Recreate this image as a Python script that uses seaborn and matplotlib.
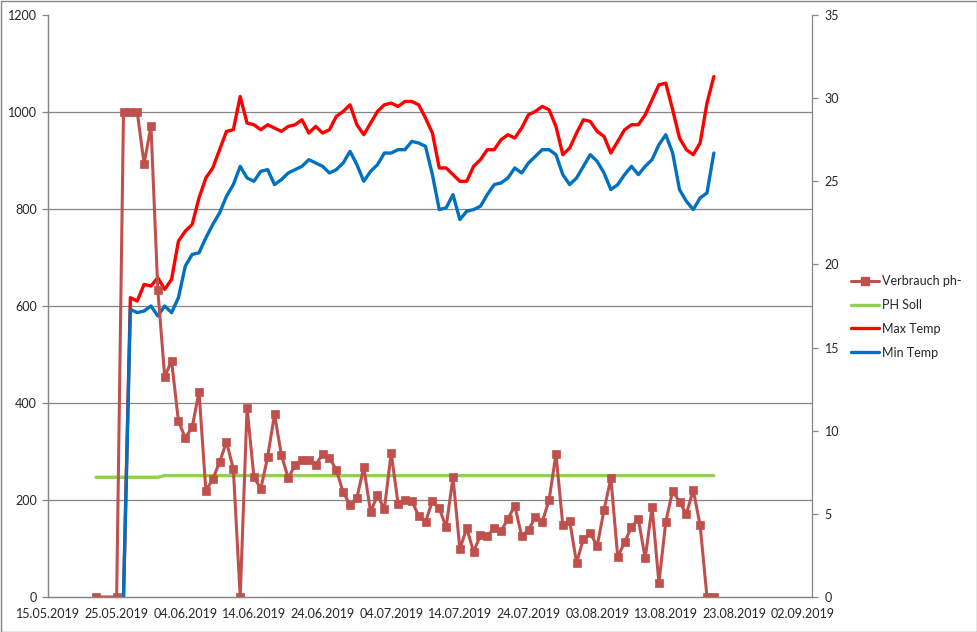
import matplotlib
matplotlib.use('Agg')
import matplotlib.pyplot as plt
from matplotlib.ticker import FixedLocator
from matplotlib.patches import Rectangle
from matplotlib.lines import Line2D
import seaborn as sns
import pandas as pd

sns.set_style('white')
plt.rcParams['font.family'] = ['Lato', 'DejaVu Sans']

# ---------------- data ----------------
verbrauch_dates = ['2019-05-22'] + list(pd.date_range('2019-05-25', '2019-08-20').strftime('%Y-%m-%d'))
verbrauch = [0,
             0, 1000, 1000, 1000, 893, 971, 633, 454, 487, 363,
             328, 350, 423, 219, 243, 278, 320, 264, 0, 390,
             247, 223, 289, 377, 293, 245, 272, 282, 282, 272,
             295, 287, 262, 216, 190, 204, 268, 175, 210, 181,
             297, 192, 200, 198, 167, 155, 198, 183, 144, 247,
             99, 142, 93, 128, 126, 142, 136, 161, 188, 126,
             138, 165, 155, 200, 295, 148, 157, 70, 120, 132,
             105, 179, 245, 82, 113, 144, 161, 80, 186, 29,
             155, 219, 196, 171, 221, 148, 0, 0]

ph_soll = [7.2] * 8 + [7.3] * 81

temp_dates = list(pd.date_range('2019-05-26', '2019-08-20').strftime('%Y-%m-%d'))
max_temp = [0,
            18.0, 17.8, 18.8, 18.7, 19.2, 18.5, 19.1, 21.4, 22.0, 22.4,
            24.0, 25.2, 25.8, 26.9, 28.0, 28.1, 30.1, 28.5, 28.4, 28.1,
            28.4, 28.2, 28.0, 28.3, 28.4, 28.7, 27.9, 28.3, 27.9, 28.1,
            28.9, 29.2, 29.6, 28.4, 27.8, 28.5, 29.2, 29.6, 29.7, 29.5,
            29.8, 29.8, 29.6, 28.8, 27.9, 25.8, 25.8, 25.4, 25.0, 25.0,
            25.9, 26.3, 26.9, 26.9, 27.5, 27.8, 27.6, 28.2, 29.0, 29.2,
            29.5, 29.3, 28.3, 26.6, 27.0, 27.9, 28.7, 28.6, 28.0, 27.7,
            26.7, 27.4, 28.1, 28.4, 28.4, 29.0, 29.9, 30.8, 30.9, 29.3,
            27.6, 26.9, 26.6, 27.3, 29.7, 31.3]
min_temp = [0,
            17.3, 17.1, 17.2, 17.5, 16.9, 17.5, 17.1, 18.0, 19.9, 20.6,
            20.7, 21.6, 22.4, 23.1, 24.1, 24.8, 25.9, 25.2, 25.0, 25.6,
            25.7, 24.8, 25.1, 25.5, 25.7, 25.9, 26.3, 26.1, 25.9, 25.5,
            25.7, 26.1, 26.8, 26.0, 25.0, 25.6, 26.0, 26.7, 26.7, 26.9,
            26.9, 27.4, 27.3, 27.1, 25.4, 23.3, 23.4, 24.2, 22.7, 23.2,
            23.3, 23.5, 24.2, 24.8, 24.9, 25.2, 25.8, 25.5, 26.1, 26.5,
            26.9, 26.9, 26.6, 25.4, 24.8, 25.2, 25.9, 26.6, 26.2, 25.5,
            24.5, 24.8, 25.4, 25.9, 25.4, 25.9, 26.3, 27.2, 27.8, 26.7,
            24.5, 23.8, 23.3, 24.0, 24.3, 26.7]

x_tick_dates = list(pd.date_range('2019-05-15', periods=12, freq='10D'))
left_ticks = [0, 200, 400, 600, 800, 1000, 1200]
right_ticks = [0, 5, 10, 15, 20, 25, 30, 35]

df_v = pd.DataFrame({'date': pd.to_datetime(verbrauch_dates), 'Verbrauch ph-': verbrauch, 'PH Soll': ph_soll})
df_t = pd.DataFrame({'date': pd.to_datetime(temp_dates), 'Max Temp': max_temp, 'Min Temp': min_temp})

C_V, C_PH, C_MAX, C_MIN = '#C0504D', '#92D050', '#FF0000', '#0070C0'
GRID = '#868686'
TXT = '#262626'

# ---------------- figure ----------------
W, H = 978, 632
fig = plt.figure(figsize=(W / 100, H / 100), dpi=100)
L, R, T, B = 48, 812, 15, 597
ax = fig.add_axes([L / W, 1 - B / H, (R - L) / W, (B - T) / H])
ax2 = ax.twinx()

# right axis (drawn below): PH Soll and temperatures
sns.lineplot(data=df_v, x='date', y='PH Soll', ax=ax2, color=C_PH, lw=2.4, legend=False, estimator=None)
sns.lineplot(data=df_t, x='date', y='Max Temp', ax=ax2, color=C_MAX, lw=2.4, legend=False, estimator=None)
sns.lineplot(data=df_t, x='date', y='Min Temp', ax=ax2, color=C_MIN, lw=2.4, legend=False, estimator=None)

# left axis (on top): Verbrauch
sns.lineplot(data=df_v, x='date', y='Verbrauch ph-', ax=ax, color=C_V, lw=2.2, marker='s',
             markersize=6, markeredgecolor=C_V, markeredgewidth=0.5, legend=False, estimator=None)
ax.set_zorder(ax2.get_zorder() + 1)
ax.patch.set_visible(False)

x0 = pd.Timestamp('2019-05-15')
ax.set_xlim(x0, x0 + pd.Timedelta(days=111.3))
ax.set_ylim(0, 1200)
ax2.set_ylim(0, 35)

ax.set_xticks(x_tick_dates)
ax.set_xticklabels([d.strftime('%d.%m.%Y') for d in x_tick_dates])
ax.set_yticks(left_ticks)
ax.set_yticklabels([str(v) for v in left_ticks])
ax2.set_yticks(right_ticks)
ax2.set_yticklabels([str(v) for v in right_ticks])

# horizontal gridlines (at the left-axis ticks) drawn on the lower axes
ax2.yaxis.set_minor_locator(FixedLocator([35 * k / 6 for k in range(7)]))
ax2.grid(False)
ax2.grid(which='minor', axis='y', color=GRID, lw=0.9)
ax2.set_axisbelow(True)
ax.grid(False)

ax.set_xlabel('')
ax.set_ylabel('')
ax2.set_ylabel('')

for a in (ax, ax2):
    for s in a.spines.values():
        s.set_color(GRID)
        s.set_linewidth(0.9)
    a.spines['top'].set_visible(False)
ax.spines['right'].set_visible(False)

ax.tick_params(axis='x', direction='out', length=5, width=0.9, color=GRID, labelsize=9, labelcolor=TXT, pad=3)
ax.tick_params(axis='y', direction='out', length=4, width=0.9, color=GRID, labelsize=9, labelcolor=TXT, pad=4)
ax2.tick_params(axis='y', which='major', direction='out', length=4, width=0.9, color=GRID, labelsize=9, labelcolor=TXT, pad=5)
ax2.tick_params(axis='y', which='minor', length=0)

# legend
handles = [
    Line2D([], [], color=C_V, lw=2.2, marker='s', markersize=6, markeredgecolor=C_V),
    Line2D([], [], color=C_PH, lw=2.4),
    Line2D([], [], color=C_MAX, lw=2.4),
    Line2D([], [], color=C_MIN, lw=2.4),
]
labels = ['Verbrauch ph-', 'PH Soll', 'Max Temp', 'Min Temp']
fig.legend(handles, labels, loc='upper left', bbox_to_anchor=(851 / W, 1 - 275 / H),
           frameon=False, fontsize=9, handlelength=2.2, handletextpad=0.25,
           labelspacing=0.95, borderpad=0, borderaxespad=0, labelcolor=TXT)

# chart border
fig.patches.append(Rectangle((0.5 / W, 0.5 / H), 1 - 1.5 / W, 1 - 1.5 / H, transform=fig.transFigure,
                             fill=False, edgecolor=GRID, lw=1))

fig.savefig('out.png', dpi=100)
